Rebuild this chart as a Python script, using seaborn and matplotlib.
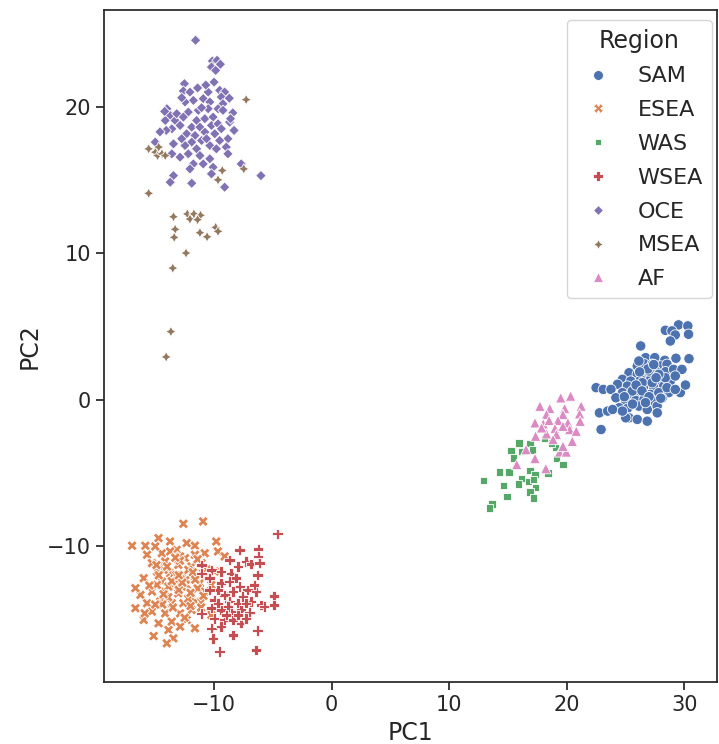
import matplotlib
matplotlib.use("Agg")
import matplotlib.pyplot as plt
import numpy as np
import pandas as pd
import seaborn as sns

# point coordinates, one pair of lists per region
sam_x = [29.51, 30.3, 28.39, 28.95, 29.23, 28.81, 30.36, 26.29, 26.71, 27.49, 28.34, 29.29,
         26.0, 26.57, 27.27, 27.97, 28.53, 25.3, 26.0, 26.71, 27.55, 28.39, 29.09, 29.8,
         24.74, 25.44, 26.29, 27.13, 27.97, 28.81, 24.32, 25.16, 25.86, 26.57, 27.41, 28.25,
         22.5, 23.11, 23.76, 24.74, 25.44, 26.29, 27.13, 27.83, 28.67, 29.66, 25.02, 25.86,
         26.57, 27.41, 28.11, 24.46, 25.16, 26.14, 26.85, 27.69, 22.78, 23.48, 23.9, 25.3,
         26.0, 25.02, 26.85, 22.92, 24.74, 24.18, 28.39, 29.23, 26.99, 27.83, 25.58, 26.43,
         27.27, 28.53, 26.14, 29.23, 30.4, 30.1, 26.9, 27.6, 25.9, 26.4, 27.0, 28.0,
         25.6, 26.7, 27.7, 24.9, 26.2, 27.4]
sam_y = [5.11, 5.04, 4.74, 4.7, 4.42, 4.01, 4.47, 3.67, 2.87, 2.87, 2.69, 2.83,
         2.3, 2.46, 2.42, 2.3, 2.42, 1.84, 1.73, 1.84, 1.96, 1.91, 2.07, 2.07,
         1.39, 1.27, 1.39, 1.39, 1.27, 1.27, 1.05, 0.93, 0.82, 0.93, 0.82, 0.93,
         0.82, 0.7, 0.7, 0.48, 0.36, 0.41, 0.36, 0.48, 0.48, 0.48, -0.1, -0.05,
         0.02, -0.1, 0.09, -0.55, -0.6, -0.44, -0.67, -0.44, -0.9, -0.78, -0.67, -1.24,
         -1.35, -1.24, -1.47, -2.04, -0.78, 0.13, 1.5, 1.62, 1.96, 1.73, 0.59, 1.16,
         1.16, 0.82, 2.64, 0.7, 2.8, 1.0, 2.1, 1.5, 1.0, 0.6, 0.2, 0.1,
         -0.3, -0.2, -0.9, 0.2, 1.9, 2.4]

esea_x = [-12.61, -10.93, -16.97, -15.84, -14.72, -13.74, -12.33, -11.63, -10.79, -9.81, -9.67, -9.1,
          -15.7, -14.44, -13.18, -12.47, -11.63, -15.28, -14.16, -13.04, -11.91, -11.07, -9.95, -14.86,
          -13.74, -12.61, -11.63, -15.98, -14.44, -13.31, -12.33, -11.21, -10.23, -16.26, -15.28, -14.16,
          -13.04, -11.91, -10.79, -15.7, -14.58, -13.6, -12.61, -11.63, -8.82, -16.69, -15.28, -14.16,
          -12.89, -11.91, -10.23, -15.98, -14.72, -13.6, -12.33, -11.63, -12.89, -13.88, -15.14, -13.46,
          -14.02, -16.69, -10.93, -12.75, -13.88, -14.86, -13.46, -14.3, -12.19, -11.07, -12.89, -13.74,
          -15.0, -13.2, -12.4, -13.9, -12.2, -11.4, -14.7, -13.5, -12.0, -15.5, -11.1, -12.9,
          -14.0, -10.6, -11.4, -13.0, -12.7, -14.4, -11.8, -15.0, -10.5, -13.6, -12.0, -14.9,
          -13.3, -11.6, -15.9, -12.5, -14.3, -10.9, -13.0]
esea_y = [-8.48, -8.32, -9.98, -9.98, -9.46, -9.69, -9.8, -9.98, -10.49, -9.69, -10.37, -10.71,
          -10.6, -10.49, -10.26, -10.83, -10.6, -11.17, -11.06, -11.29, -11.4, -11.17, -11.74, -11.74,
          -11.86, -11.97, -12.08, -12.2, -12.43, -12.54, -12.66, -12.54, -12.66, -13.34, -13.11, -13.11,
          -13.23, -13.23, -13.11, -13.91, -13.8, -13.91, -13.91, -13.8, -13.34, -14.25, -14.48, -14.6,
          -14.6, -14.37, -14.71, -15.05, -15.28, -15.17, -15.05, -15.62, -15.51, -15.74, -16.15, -16.31,
          -16.65, -12.88, -11.86, -12.77, -12.77, -12.66, -11.97, -11.63, -11.63, -13.8, -10.71, -10.37,
          -10.03, -12.0, -12.3, -13.5, -13.6, -12.9, -12.0, -14.2, -14.1, -12.7, -14.2, -11.0,
          -11.4, -11.6, -10.9, -13.0, -12.5, -14.0, -11.8, -14.0, -12.1, -12.4, -13.2, -11.3,
          -10.8, -12.3, -14.6, -14.9, -13.3, -13.4, -12.0]

was_x = [15.95, 16.88, 18.11, 15.27, 16.17, 17.1, 15.47, 19.07, 19.12, 19.68, 14.26, 15.1,
         16.88, 17.3, 18.42, 12.94, 14.63, 16.17, 15.89, 16.73, 17.35, 14.91, 16.88, 17.16,
         13.65, 13.45, 17.16, 18.7]
was_y = [-2.95, -2.99, -2.65, -3.47, -3.52, -3.43, -3.98, -3.29, -4.02, -4.43, -4.94, -4.94,
         -4.84, -5.12, -5.0, -5.53, -5.85, -5.39, -5.76, -5.58, -5.99, -6.6, -6.3, -6.72,
         -7.13, -7.4, -5.46, -2.95]

wsea_x = [-4.61, -7.84, -6.24, -6.24, -8.68, -7.27, -6.86, -6.15, -7.98, -11.07, -10.23, -9.39,
          -8.54, -6.3, -10.37, -9.39, -8.68, -7.84, -7.14, -6.44, -8.4, -9.1, -7.56, -4.89,
          -4.89, -9.95, -8.68, -7.98, -6.86, -6.02, -11.07, -10.23, -9.39, -8.54, -7.7, -7.0,
          -9.95, -9.1, -8.4, -7.7, -10.23, -9.39, -6.3, -10.09, -9.53, -6.44, -11.07, -9.67,
          -8.82, -7.98, -7.28, -6.58, -10.37, -5.73, -8.12, -9.67, -8.96, -7.28, -8.4]
wsea_y = [-9.16, -10.26, -10.21, -10.71, -10.94, -11.06, -11.22, -11.17, -11.4, -11.29, -11.63, -11.74,
          -11.86, -11.97, -12.2, -12.54, -12.43, -12.77, -12.99, -13.11, -13.11, -13.34, -13.45, -13.41,
          -14.02, -13.68, -13.8, -13.91, -13.8, -14.02, -14.6, -14.25, -14.37, -14.48, -14.37, -14.55,
          -14.94, -15.05, -15.05, -15.28, -15.62, -15.51, -15.78, -16.31, -17.22, -17.11, -11.86, -12.99,
          -14.14, -14.71, -13.91, -12.66, -12.99, -14.14, -12.2, -13.91, -14.71, -14.94, -16.08]

oce_x = [-11.57, -10.14, -9.74, -9.46, -10.22, -9.86, -12.52, -12.61, -12.05, -11.76, -10.92, -10.36,
         -9.52, -9.1, -9.38, -9.24, -9.66, -14.01, -13.73, -14.15, -13.31, -12.89, -12.19, -11.34,
         -10.5, -11.48, -10.78, -10.08, -11.9, -11.2, -10.22, -9.66, -8.68, -12.33, -11.62, -10.78,
         -9.94, -13.59, -14.07, -8.82, -9.52, -11.06, -11.9, -12.47, -10.36, -13.45, -11.48, -9.8,
         -8.96, -12.89, -12.19, -11.2, -10.36, -8.82, -13.59, -11.76, -10.92, -10.08, -7.69, -6.01,
         -13.45, -12.05, -10.22, -13.73, -11.9, -9.1, -12.47, -12.75, -10.5, -11.06, -9.24, -13.17,
         -12.61, -10.64, -9.38, -12.75, -15.0, -14.6, -14.2, -10.7, -11.4, -10.0, -8.7, -8.4,
         -8.6, -8.3]
oce_y = [24.56, 23.14, 23.19, 22.92, 22.73, 22.5, 21.59, 21.09, 21.02, 20.45, 20.57, 20.34,
         21.14, 21.02, 20.68, 20.22, 19.88, 19.88, 19.42, 19.08, 19.08, 18.74, 19.65, 19.77,
         19.88, 19.08, 19.2, 19.31, 18.62, 18.62, 18.74, 18.85, 18.97, 18.17, 18.05, 18.28,
         18.17, 18.51, 18.4, 17.83, 17.71, 17.71, 17.6, 17.37, 17.37, 17.48, 17.14, 17.14,
         17.26, 16.57, 16.8, 16.68, 16.46, 16.8, 16.8, 16.11, 16.11, 15.88, 16.11, 15.31,
         15.31, 15.77, 15.43, 14.86, 14.79, 14.52, 20.34, 20.63, 21.02, 19.95, 19.77, 19.54,
         19.31, 17.83, 18.51, 17.83, 17.6, 18.3, 19.7, 21.5, 21.3, 21.7, 20.6, 19.6,
         19.2, 18.4]

msea_x = [-7.27, -15.56, -14.99, -14.8, -14.43, -14.15, -14.71, -9.3, -9.66, -7.47, -15.56, -13.45,
          -12.27, -11.71, -11.15, -12.05, -11.4, -13.31, -13.39, -11.2, -10.59, -9.86, -9.66, -12.38,
          -13.51, -13.67, -14.07]
msea_y = [20.5, 17.14, 16.91, 16.68, 16.8, 16.68, 17.26, 15.66, 15.02, 15.77, 14.1, 12.5,
          12.69, 12.69, 12.6, 12.34, 12.3, 11.64, 11.09, 11.41, 11.13, 11.77, 11.5, 10.02,
          8.99, 4.65, 2.92]

af_x = [19.49, 20.33, 17.72, 18.56, 19.82, 21.23, 18.28, 19.68, 21.09, 17.3, 18.0, 18.5,
        19.26, 20.1, 21.14, 19.0, 20.25, 17.35, 18.28, 19.12, 20.47, 16.54, 17.3, 19.4,
        19.96, 15.75, 18.22, 18.84, 19.68, 17.86, 20.81, 19.68]
af_y = [0.13, 0.25, -0.44, -0.6, -0.6, -0.44, -1.01, -1.01, -0.96, -1.58, -1.65, -1.42,
        -1.42, -1.58, -1.47, -1.97, -2.04, -2.49, -2.33, -2.38, -2.84, -3.41, -4.02, -3.57,
        -3.57, -4.43, -4.71, -2.72, -1.81, -1.92, -2.15, -3.18]

regions = ["SAM", "ESEA", "WAS", "WSEA", "OCE", "MSEA", "AF"]
xs = [sam_x, esea_x, was_x, wsea_x, oce_x, msea_x, af_x]
ys = [sam_y, esea_y, was_y, wsea_y, oce_y, msea_y, af_y]

df = pd.concat(
    [pd.DataFrame({"PC1": x, "PC2": y, "Region": r}) for r, x, y in zip(regions, xs, ys)],
    ignore_index=True,
)

sns.set_theme(style="ticks")
plt.rcParams["font.family"] = ["DejaVu Sans"]

fig, ax = plt.subplots(figsize=(7.19, 7.44), dpi=100)
fig.subplots_adjust(left=0.145, right=0.997, top=0.987, bottom=0.083)

sns.scatterplot(
    data=df, x="PC1", y="PC2", hue="Region", style="Region",
    hue_order=regions, style_order=regions, s=56, ax=ax,
)

ax.set_xlabel("PC1", fontsize=17)
ax.set_ylabel("PC2", fontsize=17)
ax.set_xticks([-10, 0, 10, 20, 30])
ax.set_yticks([-10, 0, 10, 20])
ax.tick_params(axis="both", labelsize=15)

leg = ax.legend(title="Region", loc="upper right", bbox_to_anchor=(0.992, 0.985),
                borderaxespad=0, fontsize=16, title_fontsize=17,
                markerscale=0.95, labelspacing=0.62)

plt.savefig("out.png", dpi=100)
